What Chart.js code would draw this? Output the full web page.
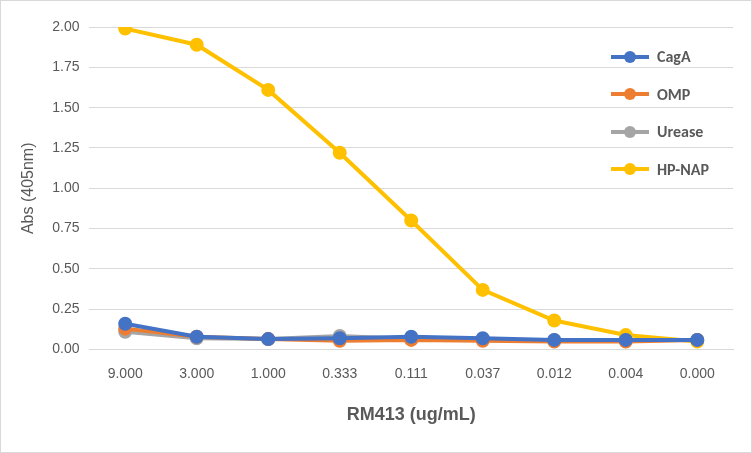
<!DOCTYPE html>
<html><head><meta charset="utf-8">
<script src="https://cdn.jsdelivr.net/npm/chart.js@4"></script>
<style>
body{margin:0;background:#fff;font-family:Calibri,"Liberation Sans",Arial,sans-serif}
#wrap{position:relative;width:750px;height:451px;border:1px solid #d9d9d9}
#legend{position:absolute;left:610px;top:37px;font-size:16px;font-weight:bold;color:#595959}
#legend div{display:flex;align-items:center;height:37.5px}
#legend span.k{position:relative;width:38px;height:4px;margin-right:8px}
#legend span.k:after{content:"";position:absolute;left:13px;top:-4px;width:12px;height:12px;border-radius:50%;background:inherit}
</style></head><body>
<div id="wrap"><canvas id="c" width="750" height="451"></canvas>
<div id="legend"></div></div>
<script>
const categorias = ['9.000','3.000','1.000','0.333','0.111','0.037','0.012','0.004','0.000'];
const cagA   = [0.16,0.08,0.065,0.07,0.08,0.07,0.06,0.06,0.06];
const omp    = [0.13,0.08,0.065,0.055,0.06,0.055,0.05,0.05,0.06];
const urease = [0.11,0.07,0.065,0.085,0.065,0.06,0.06,0.06,0.06];
const hpNap  = [1.99,1.89,1.61,1.22,0.80,0.37,0.18,0.09,0.05];

const CORES = { azul:'#4472c4', laranja:'#ed7d31', cinza:'#a5a5a5', amarelo:'#ffc000' };
const series = [
    ['CagA', cagA, CORES.azul],
    ['OMP', omp, CORES.laranja],
    ['Urease', urease, CORES.cinza],
    ['HP-NAP', hpNap, CORES.amarelo]
];

document.getElementById('legend').innerHTML = series.map(s =>
    `<div><span class="k" style="background:${s[2]}"></span>${s[0]}</div>`).join('');

new Chart(document.getElementById('c'), {
    type: 'line',
    data: {
        labels: categorias,
        datasets: series.map(s => ({
            label: s[0], data: s[1], borderColor: s[2], backgroundColor: s[2],
            borderWidth: 4, pointRadius: 5, pointHoverRadius: 5, tension: 0
        }))
    },
    options: {
        responsive: false, animation: false,
        layout: { padding: { left: 14, right: 18, top: 26, bottom: 22 } },
        plugins: { legend: { display: false }, tooltip: { enabled: false } },
        scales: {
            x: {
                offset: true,
                grid: { display: false, drawTicks: false },
                border: { color: '#d9d9d9' },
                ticks: { color: '#595959', font: { size: 14 }, padding: 16 },
                title: { display: true, text: 'RM413 (ug/mL)', color: '#595959', font: { size: 18, weight: 'bold' }, padding: { top: 6 } }
            },
            y: {
                min: 0, max: 2,
                ticks: { stepSize: 0.25, color: '#595959', font: { size: 14 }, padding: 10, callback: v => v.toFixed(2) },
                grid: { color: '#d9d9d9', drawTicks: false },
                border: { display: false },
                title: { display: true, text: 'Abs (405nm)', color: '#595959', font: { size: 16 } }
            }
        }
    }
});
</script></body></html>
